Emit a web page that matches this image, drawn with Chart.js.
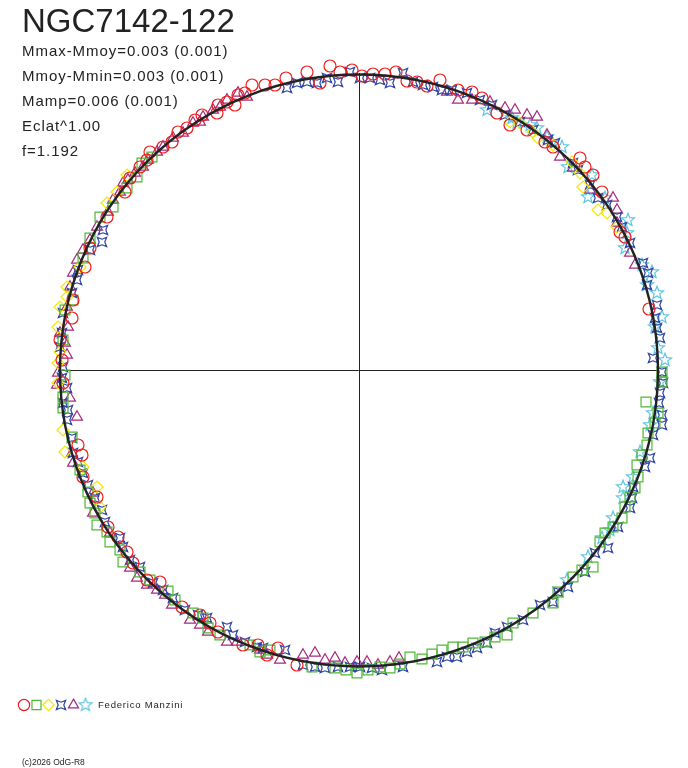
<!DOCTYPE html>
<html>
<head>
<meta charset="utf-8">
<title>NGC7142-122</title>
<script src="https://cdn.jsdelivr.net/npm/chart.js@4.4.1/dist/chart.umd.min.js"></script>
<style>
  body { margin: 0; background: #fff; }
  #wrap { position: relative; width: 688px; height: 768px; font-family: "Liberation Sans", Arial, sans-serif; color: #222; }
  #wrap canvas { position: absolute; left: 0; top: 0; }
  .txt { position: absolute; white-space: nowrap; }
  #title { left: 22px; top: 4px; font-size: 33px; line-height: 33px; }
  #stats { left: 22px; top: 38px; font-size: 15px; line-height: 25px; letter-spacing: 0.95px; }
  #observer { left: 98px; top: 700px; font-size: 9.5px; line-height: 10px; letter-spacing: 0.8px; }
  #copy { left: 22px; top: 758px; font-size: 8.5px; line-height: 9px; }
</style>
</head>
<body>
<div id="wrap">
  <canvas id="phase" width="688" height="768"></canvas>
  <div class="txt" id="title">NGC7142-122</div>
  <div class="txt" id="stats">
    Mmax-Mmoy=0.003 (0.001)<br>
    Mmoy-Mmin=0.003 (0.001)<br>
    Mamp=0.006 (0.001)<br>
    Eclat^1.00<br>
    f=1.192
  </div>
  <div class="txt" id="observer">Federico Manzini</div>
  <div class="txt" id="copy">(c)2026 OdG-R8</div>
</div>
<script>
// polar phase diagram, points as [x, y]
const redCircles = [
  [-62,-295],[-81,-278],[-92,-285],[-101,-275],[-116,-275],[-141,-262],[-149,-253],[-159,-245],
  [-177,-237],[-199,-212],[-212,-210],[-226,-193],[-232,-182],[-241,-167],[-251,-157],[-262,-127],
  [-276,-107],[-277,-85],[-281,-75],[-296,-13],[-297,10],[-299,30],[-287,52],[-286,70],
  [-274,103],[-269,122],[-252,153],[-234,178],[-229,192],[-219,203],[-212,210],[-209,218],
  [-196,223],[-187,228],[-181,238],[-172,242],[-164,250],[-157,255],[-142,257],[-141,265],
  [-132,268],[-124,265],[-121,275],[-114,277],[-107,285],[-94,285],[-84,285],[-73,292],
  [-52,298],[-39,287],[-29,304],[-19,298],[-7,300],[3,294],[14,296],[26,296],
  [37,298],[48,289],[58,288],[68,284],[81,290],[99,280],[113,278],[123,272],
  [138,257],[151,245],[168,240],[186,228],[194,223],[221,212],[226,203],[234,195],
  [243,178],[261,138],[266,133],[290,61]
];
const greenSquares = [
  [-207,213],[-217,207],[-222,193],[-232,182],[-246,163],[-259,153],[-269,132],[-276,112],
  [-286,70],[-294,60],[-296,30],[-294,-5],[-296,-27],[-296,-38],[-287,-67],[-279,-100],
  [-271,-122],[-269,-133],[-264,-143],[-262,-155],[-252,-162],[-249,-172],[-239,-180],[-236,-192],
  [-219,-202],[-209,-210],[-191,-221],[-184,-230],[-166,-243],[-156,-248],[-151,-258],[-139,-265],
  [-109,-275],[-99,-282],[-89,-280],[-47,-297],[-24,-298],[-13,-300],[-2,-303],[9,-300],
  [21,-297],[31,-298],[41,-294],[51,-287],[63,-289],[73,-284],[83,-280],[94,-277],
  [104,-277],[114,-273],[126,-272],[136,-267],[148,-265],[154,-253],[174,-243],[194,-233],
  [199,-222],[214,-207],[223,-200],[234,-197],[241,-172],[246,-163],[254,-157],[263,-148],
  [266,-137],[271,-127],[276,-118],[279,-107],[278,-95],[283,-85],[288,-75],[289,-63],
  [296,-53],[299,-43],[287,-32],[303,-12],[303,-2]
];
const yellowDiamonds = [
  [151,248],[161,247],[174,238],[179,232],[194,225],[213,208],[221,197],[224,183],
  [239,160],[248,157],[258,143],
  [-232,195],[-242,178],[-252,167],[-279,103],[-292,83],[-292,73],[-299,63],
  [-301,43],[-299,18],[-301,7],[-301,-13],[-296,-60],[-294,-82],[-276,-97],[-262,-117],
  [-259,-137]
];
const blueStars = [
  [-72,282],[-62,287],[-52,288],[-42,287],[-32,292],[-21,288],[-9,298],[1,292],
  [11,292],[21,290],[31,287],[44,297],[54,288],[64,285],[74,283],[83,280],
  [93,280],[108,277],[121,270],[133,265],[146,255],[161,248],[174,240],[189,230],
  [196,227],[214,207],[219,200],[231,185],[239,172],[248,165],[258,153],[263,143],
  [271,127],[284,107],[289,97],[288,85],[298,65],[296,52],[298,42],[301,32],
  [294,12],[303,-2],[304,-13],[301,-23],[300,-33],[303,-45],[303,-55],[294,-65],
  [291,-88],[286,-97],[274,-117],[273,-128],[271,-138],[259,-157],[249,-178],[236,-183],
  [226,-202],[209,-217],[199,-222],[194,-232],[181,-235],[164,-250],[148,-257],[136,-263],
  [128,-273],[118,-278],[108,-282],[98,-287],[88,-287],[78,-292],[44,-297],[23,-300],
  [13,-298],[1,-297],[-9,-297],[-21,-297],[-34,-298],[-44,-297],[-56,-295],[-74,-280],
  [-96,-278],[-102,-277],[-114,-272],[-126,-265],[-132,-257],[-152,-248],[-161,-245],[-174,-240],
  [-186,-228],[-196,-220],[-206,-213],[-219,-197],[-229,-190],[-236,-177],[-239,-168],[-254,-152],
  [-257,-140],[-264,-128],[-271,-115],[-276,-103],[-281,-92],[-286,-83],[-287,-68],[-292,-50],
  [-291,-40],[-296,-33],[-292,-18],[-297,-8],[-296,3],[-299,23],[-297,37],[-296,57],
  [-287,77],[-282,90],[-281,100],[-269,120],[-257,128],[-256,140]
];
const purpleTriangles = [
  [-251,158],[-246,170],[-239,178],[-231,190],[-224,197],[-216,203],[-211,210],[-202,218],
  [-196,223],[-186,232],[-176,237],[-166,247],[-159,248],[-156,253],[-146,260],[-139,263],
  [-132,270],[-121,277],[-112,273],
  [88,278],[99,270],[113,270],[131,268],[146,262],[156,260],[168,255],[178,253],
  [188,235],[201,213],[214,202],[231,180],[254,172],[258,160],[258,147],[271,117],
  [276,105],
  [-236,187],[-262,143],[-269,130],[-276,120],[-282,110],[-286,97],[-289,83],[-292,63],
  [-291,43],[-299,37],[-294,27],[-292,15],[-301,-3],[-302,-15],[-289,-28],[-282,-47],
  [-287,-83],[-286,-93],[-266,-123],[-266,-143],[-249,-163],[-229,-198],[-222,-208],[-212,-215],
  [-202,-220],[-194,-225],[-187,-235],[-169,-250],[-159,-255],[-151,-262],[-132,-272],[-122,-272],
  [-99,-280],[-92,-285],[-79,-290],[-56,-285],[-44,-283],[-34,-290],[-24,-288],[-14,-293],
  [-2,-292],[8,-292],[19,-295],[31,-292],[40,-288]
];
const cyanStars = [
  [128,260],[153,252],[158,247],[171,245],[178,242],[188,233],[193,228],[203,223],
  [209,203],[233,195],[229,173],[246,172],[269,150],[268,137],[266,122],[283,105],
  [293,98],[288,85],[298,77],[303,53],[296,43],[299,22],[306,10],[301,-12],
  [294,-43],[291,-55],[281,-82],[274,-107],[264,-117],[264,-128],[254,-148],[251,-160],
  [243,-168],[229,-187],[208,-210]
];

// fitted curve and axes (plot units)
const fitRx = 299, fitRy = 296;
const axisX = [-301, 300], axisY = [-297, 297];

function starMarker(points, outer, inner, color, rot) {
  const s = Math.ceil(outer * 2 + 4);
  const c = document.createElement('canvas');
  c.width = s; c.height = s;
  const g = c.getContext('2d');
  g.strokeStyle = color;
  g.lineWidth = 1.2;
  g.beginPath();
  for (let i = 0; i < points * 2; i++) {
    const r = i % 2 ? inner : outer;
    const a = rot + i * Math.PI / points;
    g.lineTo(s / 2 + r * Math.sin(a), s / 2 - r * Math.cos(a));
  }
  g.closePath();
  g.stroke();
  return c;
}

const blueMark = starMarker(4, 6.6, 2.8, '#2f44a4', Math.PI / 4);
const cyanMark = starMarker(5, 6.8, 2.9, '#5cc6e0', 0);

function toXY(arr) { return arr.map(p => ({x: p[0], y: p[1]})); }

function ds(label, pts, style, color, radius) {
  return {
    label: label,
    data: toXY(pts),
    pointStyle: style,
    pointRadius: radius,
    pointBorderColor: color,
    pointBackgroundColor: 'rgba(0,0,0,0)',
    pointBorderWidth: 1.2,
    showLine: false
  };
}

const datasets = [
  ds('circles', redCircles, 'circle', '#f01c1c', 6),
  ds('squares', greenSquares, 'rect', '#4fb834', 7),
  ds('diamonds', yellowDiamonds, 'rectRot', '#f2e800', 6),
  ds('stars4', blueStars, blueMark, '#2f44a4', 7),
  ds('triangles', purpleTriangles, 'triangle', '#a62a7a', 6.3),
  ds('stars5', cyanStars, cyanMark, '#5cc6e0', 7)
];

const phasePlugin = {
  id: 'phasePlot',
  beforeDatasetsDraw(chart) {
    const {ctx, scales: {x, y}} = chart;
    ctx.save();
    ctx.strokeStyle = '#222';
    ctx.lineWidth = 1;
    ctx.beginPath();
    ctx.moveTo(x.getPixelForValue(axisX[0]), y.getPixelForValue(0) + 0.5);
    ctx.lineTo(x.getPixelForValue(axisX[1]), y.getPixelForValue(0) + 0.5);
    ctx.moveTo(x.getPixelForValue(0) + 0.5, y.getPixelForValue(axisY[1]));
    ctx.lineTo(x.getPixelForValue(0) + 0.5, y.getPixelForValue(axisY[0]));
    ctx.stroke();
    ctx.restore();
  },
  afterDatasetsDraw(chart) {
    const {ctx, scales: {x, y}} = chart;
    const cx = x.getPixelForValue(0), cy = y.getPixelForValue(0);
    ctx.save();
    ctx.strokeStyle = '#222';
    ctx.lineWidth = 2.4;
    ctx.beginPath();
    ctx.ellipse(cx, cy + 0.5, x.getPixelForValue(fitRx) - cx, cy - y.getPixelForValue(fitRy), 0, 0, Math.PI * 2);
    ctx.stroke();
    // marker key at the bottom
    const keyX = [24, 36.5, 48.5, 61, 73.5, 85.5];
    const drawPoint = Chart.helpers && Chart.helpers.drawPoint;
    chart.data.datasets.forEach((d, i) => {
      ctx.strokeStyle = d.pointBorderColor;
      ctx.fillStyle = 'rgba(0,0,0,0)';
      ctx.lineWidth = 1.2;
      const r = d.pointRadius - (i === 1 ? 0.6 : 0.4);
      if (drawPoint) {
        drawPoint(ctx, {pointStyle: d.pointStyle, radius: r, rotation: 0, borderWidth: 1.2}, keyX[i], 705);
      }
    });
    ctx.restore();
  }
};

new Chart(document.getElementById('phase'), {
  type: 'scatter',
  data: {datasets: datasets},
  options: {
    responsive: false,
    animation: false,
    devicePixelRatio: 1,
    events: [],
    layout: {padding: 0, autoPadding: false},
    plugins: {legend: {display: false}, tooltip: {enabled: false}},
    scales: {
      x: {type: 'linear', min: -359, max: 329, display: false},
      y: {type: 'linear', min: -398, max: 370, display: false}
    }
  },
  plugins: [phasePlugin]
});
</script>
</body>
</html>
